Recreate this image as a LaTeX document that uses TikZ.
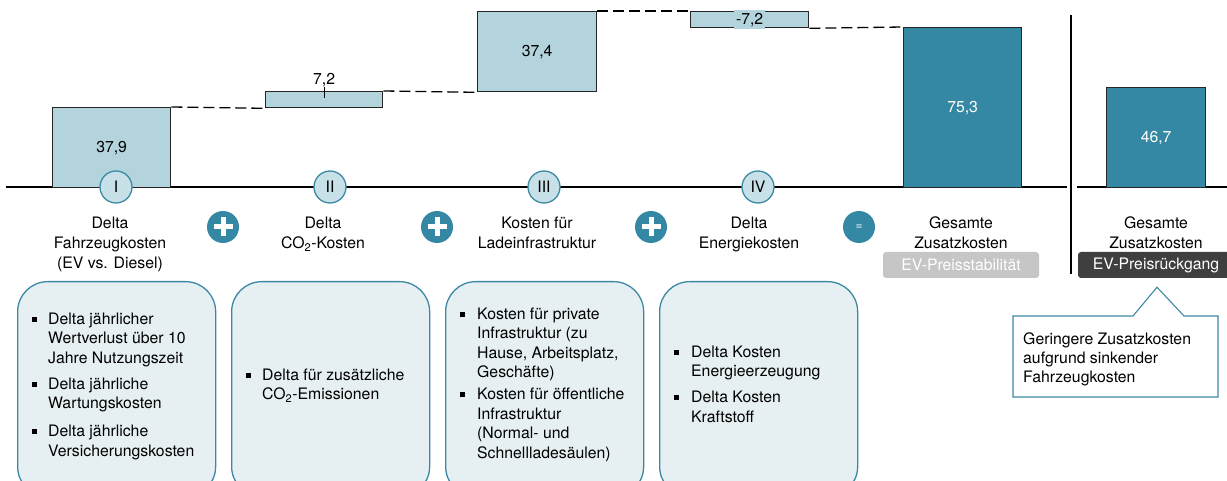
\documentclass[tikz,border=0pt]{standalone}
\usepackage{fontspec}
\setmainfont{TeX Gyre Heros}
\usepackage{xcolor}
\usepackage{tikz}
\usetikzlibrary{positioning,calc}

\definecolor{barlight}{HTML}{B3D3DD}
\definecolor{bardark}{HTML}{3588A3}
\definecolor{tealline}{HTML}{3C89A3}
\definecolor{numfill}{HTML}{C8E0E7}
\definecolor{boxfill}{HTML}{E6EFF2}
\definecolor{taggray}{HTML}{C6C6C6}
\definecolor{tagdark}{HTML}{3F3F3F}

\newcommand{\sqb}{\rule[2.5pt]{5pt}{5pt}}

\begin{document}
\begin{tikzpicture}[x=1pt, y=-1pt, font=\fontsize{15.8}{20}\selectfont,
    bar/.style={draw=black!85, line width=1.3pt, anchor=north west, inner sep=0pt},
    numc/.style={circle, draw=tealline, fill=numfill, line width=1.3pt, minimum size=32pt, inner sep=0pt},
    opc/.style={circle, fill=bardark, minimum size=32pt, inner sep=0pt},
    lbl/.style={anchor=north, align=center, inner sep=0pt},
    infobox/.style={draw=tealline, fill=boxfill, line width=1.3pt, rounded corners=30pt, anchor=north west, minimum width=198pt, minimum height=215pt},
    itemtxt/.style={anchor=north west, inner sep=0pt, font=\fontsize{15.8}{19.5}\selectfont},
    tag/.style={rounded corners=3pt, minimum width=156pt, minimum height=26pt, inner sep=0pt, text=white},
    link/.style={dash pattern=on 11pt off 5pt, line width=1.3pt}]
    \clip (0,0) rectangle (1227,481);

    % axis and separator
    \coordinate (axl) at (6,187);
    \coordinate (axr) at (1067,187);
    \coordinate (axl2) at (1077,187);
    \coordinate (axr2) at (1227,187);
    \coordinate (sept) at (1071,15);
    \coordinate (sepb) at (1071,274);
    \draw[line width=1.3pt] (axl) -- (axr);
    \draw[line width=1.3pt] (axl2) -- (axr2);
    \draw[line width=1.3pt] (sept) -- (sepb);

    % waterfall bars
    \node[bar, fill=barlight, minimum width=118pt, minimum height=80pt] (b1) at (52,107) {37,9};
    \node[bar, fill=barlight, minimum width=117pt, minimum height=16pt] (b2) at (265,91) {};
    \node[bar, fill=barlight, minimum width=119pt, minimum height=80pt] (b3) at (477,11) {37,4};
    \node[bar, fill=barlight, minimum width=118pt, minimum height=16pt] (b4) at (690,11) {};
    \node[bar, fill=bardark, text=white, minimum width=118pt, minimum height=160pt] (b5) at (903,27) {75,3};
    \node[bar, fill=bardark, text=white, minimum width=99pt, minimum height=100pt] (b6) at (1106,87) {46,7};

    \draw[link] (b1.north east) -- (b2.south west);
    \draw[link] (b2.north east) -- (b3.south west);
    \draw[link] (b3.north east) -- (b4.north west);
    \draw[link] (b4.south east) -- (b5.north west);

    \node (v2) at ($(b2.north)+(0,-11)$) {7,2};
    \draw[line width=1.3pt] ($(b2.north)+(0,-4)$) -- ($(b2.north)+(0,7)$);
    \node[fill=barlight, inner sep=2pt, minimum height=19pt] (v4) at (b4.center) {-7,2};

    % numbers on the axis
    \node[numc] (n1) at (116,187) {I};
    \node[numc] (n2) at (330,187) {II};
    \node[numc] (n3) at (544,187) {III};
    \node[numc] (n4) at (758,187) {IV};

    % labels
    \node[lbl] (l1) at (110,216.5) {Delta\\Fahrzeugkosten\\(EV vs. Diesel)};
    \node[lbl] (l2) at (323,216.5) {Delta\\CO\textsubscript{2}-Kosten};
    \node[lbl] (l3) at (537,216.5) {Kosten für\\Ladeinfrastruktur};
    \node[lbl] (l4) at (749,216.5) {Delta\\Energiekosten};
    \node[lbl] (l5) at (961,216.5) {Gesamte\\Zusatzkosten};
    \node[lbl] (l6) at (1156,216.5) {Gesamte\\Zusatzkosten};

    % plus and equal signs
    \foreach \px/\nm in {223/p1, 437/p2, 651/p3} {
        \node[opc] (\nm) at (\px,227) {};
        \draw[white, line width=5pt] ($(\nm)+(-9.5,0)$) -- ($(\nm)+(9.5,0)$);
        \draw[white, line width=5pt] ($(\nm)+(0,-9.5)$) -- ($(\nm)+(0,9.5)$);
    }
    \node[opc, text=white, font=\fontsize{12}{12}\selectfont] (eq) at (859,227) {=};

    \node[tag, fill=taggray] (t1) at (961,265) {EV-Preisstabilität};
    \node[tag, fill=tagdark] (t2) at (1156,265) {EV-Preisrückgang};

    % callout
    \coordinate (cnw) at (1013,316);
    \coordinate (cse) at (1218,397);
    \coordinate (cp) at ($(t2.south)+(1,9)$);
    \draw[tealline, line width=1.1pt, fill=white] (cnw) -- (1133,316) -- (cp) -- (1184,316) -- (cse |- cnw) -- (cse) -- (cnw |- cse) -- cycle;
    \node[anchor=north west, align=left, inner sep=0pt, font=\fontsize{15.8}{19}\selectfont] (c1) at (1023,332.5) {Geringere Zusatzkosten\\aufgrund sinkender\\Fahrzeugkosten};

    % detail boxes
    \node[infobox] (i1) at (17,281) {};
    \node[infobox] (i2) at (231,281) {};
    \node[infobox] (i3) at (445,281) {};
    \node[infobox] (i4) at (659,281) {};

    \node[itemtxt] (s1) at (32,310.3) {\begin{tabular}{@{}l@{\hspace{11pt}}l@{}}
        \sqb & Delta jährlicher\\
             & Wertverlust über 10\\
             & Jahre Nutzungszeit\\[6.5pt]
        \sqb & Delta jährliche\\
             & Wartungskosten\\[8.5pt]
        \sqb & Delta jährliche\\
             & Versicherungskosten
    \end{tabular}};
    \node[itemtxt] (s2) at (246,366.3) {\begin{tabular}{@{}l@{\hspace{11pt}}l@{}}
        \sqb & Delta für zusätzliche\\
             & CO\textsubscript{2}-Emissionen
    \end{tabular}};
    \node[itemtxt] (s3) at (460,305.3) {\begin{tabular}{@{}l@{\hspace{12pt}}l@{}}
        \sqb & Kosten für private\\
             & Infrastruktur (zu\\
             & Hause, Arbeitsplatz,\\
             & Geschäfte)\\[2.5pt]
        \sqb & Kosten für öffentliche\\
             & Infrastruktur\\
             & (Normal- und\\
             & Schnellladesäulen)
    \end{tabular}};
    \node[itemtxt] (s4) at (674,343.3) {\begin{tabular}{@{}l@{\hspace{12pt}}l@{}}
        \sqb & Delta Kosten\\
             & Energieerzeugung\\[6.5pt]
        \sqb & Delta Kosten\\
             & Kraftstoff
    \end{tabular}};
\end{tikzpicture}
\end{document}
